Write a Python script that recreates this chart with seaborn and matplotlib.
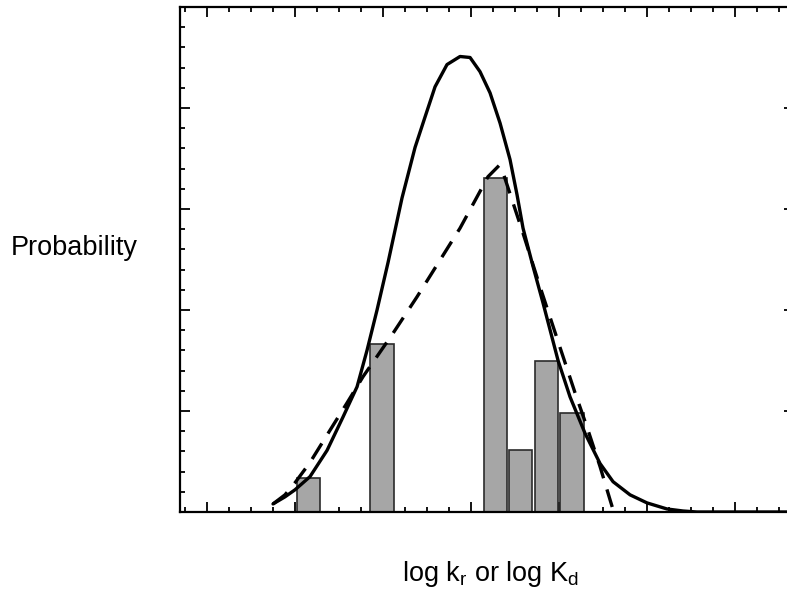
import numpy as np
import pandas as pd
import matplotlib
matplotlib.use("Agg")
import matplotlib.pyplot as plt
from matplotlib.ticker import MultipleLocator, AutoMinorLocator
import seaborn as sns

# Histogram of observed values
bar_x = [2.151, 2.989, 4.278, 4.563, 4.856, 5.148]
bar_p = [0.034, 0.166, 0.331, 0.061, 0.150, 0.098]
bar_width = 0.267

# Fitted distribution (solid curve)
fit_x = [1.750, 1.886, 2.000, 2.170, 2.364, 2.545, 2.705, 2.818, 2.932, 3.057,
         3.216, 3.364, 3.477, 3.591, 3.727, 3.875, 3.989, 4.102, 4.216, 4.330,
         4.443, 4.523, 4.591, 4.705, 4.818, 4.989, 5.125, 5.295, 5.466, 5.614,
         5.807, 6.000, 6.227, 6.409, 6.568, 7.740]
fit_p = [0.008, 0.015, 0.022, 0.035, 0.061, 0.094, 0.124, 0.160, 0.200, 0.247,
         0.311, 0.361, 0.391, 0.421, 0.443, 0.451, 0.450, 0.436, 0.415, 0.385,
         0.349, 0.314, 0.281, 0.243, 0.207, 0.150, 0.114, 0.078, 0.048, 0.030,
         0.017, 0.009, 0.003, 0.001, 0.000, 0.000]

# Alternative model (dashed curve)
alt_x = [1.750, 1.886, 2.000, 2.170, 2.398, 2.591, 2.773, 3.114, 3.386, 3.875,
         4.193, 4.318, 4.364, 4.466, 4.591, 4.784, 5.011, 5.182, 5.318, 5.466,
         5.580, 5.636]
alt_p = [0.008, 0.017, 0.029, 0.049, 0.081, 0.108, 0.134, 0.177, 0.213, 0.281,
         0.332, 0.343, 0.336, 0.309, 0.276, 0.223, 0.163, 0.118, 0.084, 0.045,
         0.012, -0.004]

sns.set_theme(style="white", rc={"text.color": "black",
                                 "axes.labelcolor": "black",
                                 "xtick.color": "black",
                                 "ytick.color": "black"})
plt.rcParams["font.family"] = ["Liberation Sans", "DejaVu Sans"]
plt.rcParams["mathtext.fontset"] = "custom"
plt.rcParams["mathtext.rm"] = "Liberation Sans"
plt.rcParams["mathtext.it"] = "Liberation Sans"

fig = plt.figure(figsize=(7.87, 5.96), dpi=100)
ax = fig.add_axes([180 / 787, 1 - 512 / 596, 614 / 787, 505 / 596])

bars = pd.DataFrame({"x": bar_x, "p": bar_p})
native = np.min(np.diff(np.sort(bar_x)))
sns.barplot(data=bars, x="x", y="p", native_scale=True, errorbar=None,
            width=bar_width / native, color="#a6a6a6", saturation=1,
            edgecolor="#2b2b2b", linewidth=1.2, ax=ax, zorder=2)

sns.lineplot(x=fit_x, y=fit_p, color="black", linewidth=2.4, ax=ax,
             sort=False, zorder=3, solid_joinstyle="round", solid_capstyle="round")
sns.lineplot(x=alt_x, y=alt_p, color="black", linewidth=2.4, ax=ax,
             sort=False, zorder=3, linestyle=(0, (5.5, 3.5)), clip_on=False,
             dash_capstyle="butt")

ax.set_xlim(0.693, 7.67)
ax.set_ylim(0, 0.5)
ax.xaxis.set_major_locator(MultipleLocator(1))
ax.xaxis.set_minor_locator(AutoMinorLocator(4))
ax.yaxis.set_major_locator(MultipleLocator(0.1))
ax.yaxis.set_minor_locator(AutoMinorLocator(5))
ax.tick_params(which="both", direction="in", top=True, right=True,
               bottom=True, left=True, labelbottom=False, labelleft=False,
               color="black", width=1.3)
ax.tick_params(which="major", length=7)
ax.tick_params(which="minor", length=3.4)
for s in ax.spines.values():
    s.set_color("black")
    s.set_linewidth(1.6)
    s.set_zorder(4)

ax.set_ylabel("Probability", rotation=0, fontsize=19.5, ha="center",
              va="center", color="black")
ax.yaxis.set_label_coords(-0.1726, 0.523)
ax.set_xlabel(r"log k$_\mathrm{r}$ or log K$_\mathrm{d}$", fontsize=19.5,
              ha="center", va="top", color="black")
ax.xaxis.set_label_coords(0.5065, -0.094)

fig.savefig("out.png", dpi=100)
